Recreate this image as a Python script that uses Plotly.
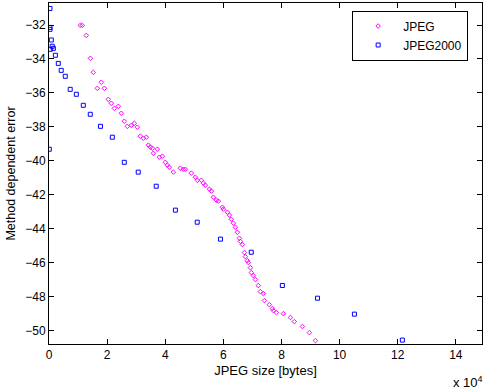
import plotly.graph_objects as go

# JPEG series (x in bytes, y = method dependent error)
jpeg_x = [10770, 11460, 12840, 14220, 15250, 18000, 16630, 19040, 20410, 21450,
          22480, 23860, 24890, 25920, 26950, 28330, 29360, 30400, 31430, 32460,
          33490, 34180, 34870, 35560, 35900, 37280, 37970, 39000, 40030, 40720,
          41410, 42790, 45200, 46230, 46920, 48980, 50360, 51050, 52430, 53120,
          53800, 55180, 55870, 56560, 57590, 58280, 59660, 60000, 61380, 62070,
          62750, 63440, 64130, 64820, 65510, 65860, 66540, 67230, 67580, 68260,
          68610, 69300, 69640, 70330, 71020, 72030, 72740, 73770, 74110, 75830,
          76870, 77210, 78250, 80650, 83080, 84440, 87200, 89600, 91680]
jpeg_y = [-32.02, -32.02, -32.61, -33.96, -34.79, -35.37, -35.73, -35.73, -36.38, -36.61,
          -36.91, -36.79, -37.20, -37.67, -37.97, -37.91, -37.79, -38.02, -38.55, -38.67,
          -38.61, -39.08, -39.20, -39.26, -39.56, -39.32, -39.79, -39.73, -40.09, -40.26,
          -40.38, -40.67, -40.44, -40.50, -40.50, -40.73, -40.97, -41.15, -41.15, -41.32,
          -41.44, -41.68, -41.79, -42.15, -42.32, -42.38, -42.74, -42.85, -43.03, -43.21,
          -43.45, -43.68, -43.92, -44.21, -44.57, -44.75, -44.94, -45.41, -45.65, -45.89,
          -46.00, -46.30, -46.59, -46.77, -47.00, -47.36, -47.71, -47.83, -48.24, -48.48,
          -48.71, -48.83, -48.95, -49.01, -49.24, -49.48, -49.77, -50.13, -50.60]

# JPEG2000 series
j2k_x = [340, 340, 340, 800, 1100, 450, 1500, 2200, 3200, 4200,
         5600, 7300, 9400, 11800, 14200, 17700, 21800, 25900, 30700, 36900,
         100, 43500, 51000, 59000, 69600, 80300, 92400, 105100, 121600]
j2k_y = [-31.02, -32.14, -32.25, -32.88, -33.25, -33.43, -33.37, -33.78, -34.26, -34.67,
         -35.02, -35.79, -36.08, -36.73, -37.26, -37.97, -38.61, -40.09, -40.67, -41.50,
         -39.32, -42.91, -43.62, -44.62, -45.39, -47.35, -48.10, -49.04, -50.57]

x_tickvals = [0, 20000, 40000, 60000, 80000, 100000, 120000, 140000]
x_ticktext = ["0", "2", "4", "6", "8", "10", "12", "14"]
y_tickvals = [-32, -34, -36, -38, -40, -42, -44, -46, -48, -50]

font_family = "Liberation Sans, Arial, sans-serif"

fig = go.Figure()
fig.add_trace(go.Scatter(
    x=jpeg_x, y=jpeg_y, mode="markers", name="JPEG",
    marker=dict(symbol="diamond-open", size=3.5, color="#FF00FF", line=dict(width=1, color="#FF00FF")),
))
fig.add_trace(go.Scatter(
    x=j2k_x, y=j2k_y, mode="markers", name="JPEG2000",
    marker=dict(symbol="square-open", size=4, color="#0000FF", line=dict(width=1, color="#0000FF")),
))

axis_common = dict(
    showgrid=False, zeroline=False, showline=True, linecolor="black", linewidth=1,
    mirror="ticks", ticks="inside", ticklen=5, tickcolor="black", tickwidth=1,
    tickfont=dict(family=font_family, size=12, color="black"), automargin=False,
)

fig.update_layout(
    width=489, height=390,
    margin=dict(l=49, r=7, t=3, b=46),
    paper_bgcolor="white", plot_bgcolor="white",
    font=dict(family=font_family, size=12, color="black"),
    showlegend=True,
    legend=dict(
        x=0.968, y=0.978, xanchor="right", yanchor="top",
        bordercolor="black", borderwidth=1, bgcolor="white",
        font=dict(family=font_family, size=12, color="black"),
        itemwidth=40, tracegroupgap=0,
    ),
    xaxis=dict(range=[0, 149000], tickvals=x_tickvals, ticktext=x_ticktext,
               title=dict(text="JPEG size [bytes]", standoff=4,
                          font=dict(family=font_family, size=13)),
               **axis_common),
    yaxis=dict(range=[-50.8, -30.7], tickvals=y_tickvals,
               title=dict(text="Method dependent error", standoff=6,
                          font=dict(family=font_family, size=12.5)),
               **axis_common),
    annotations=[dict(text="x 10<sup>4</sup>", xref="paper", yref="paper",
                      x=1.008, y=-0.11, xanchor="right", yanchor="middle", showarrow=False,
                      font=dict(family=font_family, size=13, color="black"))],
)

fig.write_html("out.html", config={"displayModeBar": False},
               post_script="document.body.style.margin='0';")
